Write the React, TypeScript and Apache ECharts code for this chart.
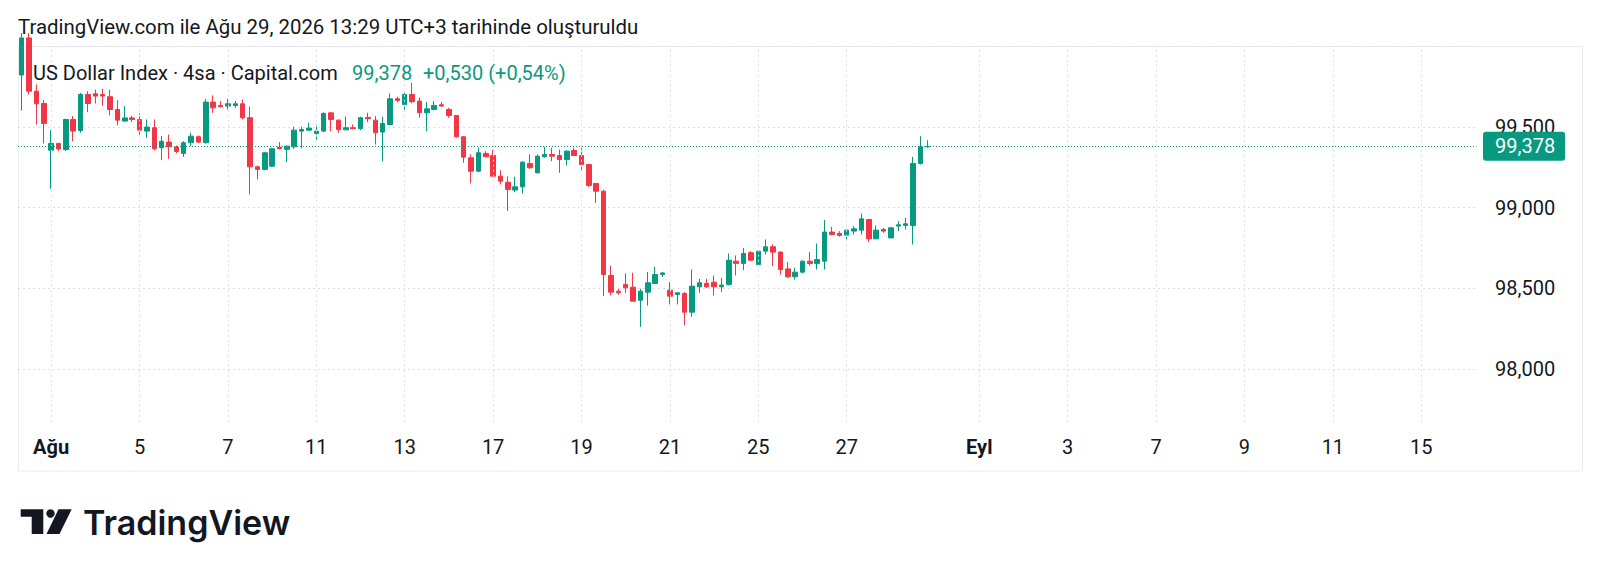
import React, { useEffect, useRef } from 'react';
import * as echarts from 'echarts';

// ---- data (4h candles, US Dollar Index, Capital.com) ----
const opens = [
  99.82, 100.05, 99.72, 99.644, 99.355, 99.397, 99.359, 99.545, 99.477, 99.70,
  99.704, 99.70, 99.686, 99.607, 99.535, 99.555, 99.545, 99.473, 99.494, 99.37,
  99.405, 99.374, 99.335, 99.401, 99.438, 99.401, 99.653, 99.632, 99.628, 99.632,
  99.642, 99.556, 99.252, 99.236, 99.256, 99.374, 99.36, 99.376, 99.473, 99.479,
  99.459, 99.473, 99.586, 99.541, 99.481, 99.494, 99.488, 99.558, 99.541, 99.467,
  99.514, 99.673, 99.638, 99.70, 99.659, 99.587, 99.607, 99.636, 99.607, 99.57,
  99.438, 99.308, 99.225, 99.335, 99.322, 99.194, 99.157, 99.108, 99.128, 99.273,
  99.215, 99.314, 99.328, 99.322, 99.297, 99.353, 99.322, 99.266, 99.149, 99.101,
  98.579, 98.482, 98.524, 98.507, 98.426, 98.476, 98.53, 98.585, 98.488, 98.462,
  98.468, 98.352, 98.509, 98.53, 98.538, 98.509, 98.524, 98.668, 98.654, 98.72,
  98.647, 98.73, 98.757, 98.724, 98.62, 98.571, 98.60, 98.668, 98.654, 98.668,
  98.848, 98.84, 98.829, 98.854, 98.86, 98.926, 98.806, 98.864, 98.812, 98.885,
  98.889, 98.889, 99.273, 99.376,
];
const closes = [
  100.05, 99.72, 99.642, 99.52, 99.397, 99.363, 99.545, 99.473, 99.70, 99.644,
  99.69, 99.69, 99.607, 99.541, 99.555, 99.545, 99.479, 99.498, 99.364, 99.41,
  99.376, 99.347, 99.401, 99.442, 99.405, 99.653, 99.617, 99.624, 99.642, 99.642,
  99.556, 99.252, 99.236, 99.339, 99.364, 99.364, 99.38, 99.479, 99.483, 99.492,
  99.473, 99.582, 99.545, 99.483, 99.494, 99.488, 99.556, 99.55, 99.463, 99.52,
  99.673, 99.663, 99.70, 99.655, 99.587, 99.611, 99.632, 99.628, 99.57, 99.438,
  99.312, 99.225, 99.339, 99.314, 99.194, 99.163, 99.112, 99.128, 99.281, 99.246,
  99.318, 99.328, 99.318, 99.297, 99.349, 99.322, 99.266, 99.137, 99.101, 98.585,
  98.476, 98.472, 98.503, 98.42, 98.482, 98.534, 98.585, 98.595, 98.451, 98.472,
  98.352, 98.513, 98.534, 98.509, 98.509, 98.52, 98.674, 98.654, 98.715, 98.674,
  98.73, 98.757, 98.724, 98.616, 98.571, 98.60, 98.668, 98.654, 98.678, 98.848,
  98.833, 98.827, 98.86, 98.868, 98.93, 98.806, 98.86, 98.854, 98.874, 98.893,
  98.899, 99.273, 99.376, 99.378,
];
const lows = [
  99.60, 99.70, 99.514, 99.397, 99.116, 99.35, 99.35, 99.41, 99.463, 99.59,
  99.644, 99.63, 99.57, 99.508, 99.53, 99.53, 99.442, 99.432, 99.353, 99.293,
  99.302, 99.335, 99.314, 99.38, 99.40, 99.397, 99.586, 99.62, 99.607, 99.617,
  99.545, 99.081, 99.174, 99.23, 99.25, 99.36, 99.281, 99.364, 99.366, 99.476,
  99.41, 99.467, 99.473, 99.463, 99.48, 99.486, 99.479, 99.529, 99.39, 99.287,
  99.508, 99.652, 99.603, 99.645, 99.556, 99.473, 99.603, 99.624, 99.556, 99.432,
  99.277, 99.149, 99.219, 99.312, 99.194, 99.143, 98.978, 99.095, 99.087, 99.24,
  99.211, 99.308, 99.287, 99.215, 99.26, 99.318, 99.225, 99.128, 99.029, 98.451,
  98.455, 98.461, 98.472, 98.42, 98.261, 98.393, 98.53, 98.571, 98.40, 98.40,
  98.27, 98.323, 98.472, 98.503, 98.455, 98.476, 98.517, 98.579, 98.612, 98.668,
  98.637, 98.709, 98.637, 98.585, 98.565, 98.554, 98.592, 98.64, 98.616, 98.616,
  98.827, 98.819, 98.802, 98.833, 98.833, 98.786, 98.806, 98.843, 98.812, 98.854,
  98.864, 98.771, 99.266, 99.37,
];
const highs = [
  100.08, 100.08, 99.762, 99.665, 99.479, 99.40, 99.55, 99.566, 99.71, 99.72,
  99.73, 99.735, 99.73, 99.665, 99.628, 99.566, 99.582, 99.545, 99.545, 99.442,
  99.452, 99.384, 99.411, 99.463, 99.446, 99.673, 99.694, 99.659, 99.673, 99.659,
  99.669, 99.624, 99.26, 99.343, 99.37, 99.405, 99.384, 99.50, 99.50, 99.525,
  99.514, 99.59, 99.59, 99.545, 99.562, 99.514, 99.562, 99.587, 99.566, 99.562,
  99.706, 99.686, 99.71, 99.772, 99.68, 99.653, 99.659, 99.653, 99.617, 99.57,
  99.44, 99.329, 99.37, 99.349, 99.355, 99.231, 99.194, 99.19, 99.287, 99.329,
  99.329, 99.376, 99.37, 99.359, 99.355, 99.37, 99.37, 99.27, 99.15, 99.11,
  98.641, 98.497, 98.592, 98.596, 98.497, 98.60, 98.633, 98.60, 98.538, 98.475,
  98.476, 98.616, 98.558, 98.558, 98.579, 98.565, 98.715, 98.703, 98.75, 98.73,
  98.735, 98.802, 98.771, 98.727, 98.662, 98.627, 98.672, 98.724, 98.777, 98.922,
  98.881, 98.854, 98.864, 98.885, 98.963, 98.93, 98.889, 98.874, 98.878, 98.915,
  98.936, 99.314, 99.442, 99.417,
];

// time axis: 198 four-hour slots (trading days only), label index -> text
const SLOT_COUNT = 198;
const dayLabels: [number, string][] = [
  [4, 'Ağu'], [16, '5'], [28, '7'], [40, '11'], [52, '13'], [64, '17'], [76, '19'],
  [88, '21'], [100, '25'], [112, '27'], [130, 'Eyl'], [142, '3'], [154, '7'],
  [166, '9'], [178, '11'], [190, '15'],
];
const monthLabels = ['Ağu', 'Eyl'];

const HEADER = 'TradingView.com ile Ağu 29, 2026 13:29 UTC+3 tarihinde oluşturuldu';
const LEGEND_NAME = 'US Dollar Index · 4sa · Capital.com';
const LEGEND_PRICE = '99,378';
const LEGEND_CHANGE = '+0,530 (+0,54%)';

const Y_MIN = 97.674;
const Y_MAX = 100;

const GREEN = '#089981';
const RED = '#f23645';
const TEXT = '#131722';
const GRID = '#dcdfe6';
const FONT = 'Roboto';
const FS = 20;

export default function App() {
  const ref = useRef<HTMLDivElement>(null);
  useEffect(() => {
    document.body.style.margin = '0';
    const chart = echarts.init(ref.current as HTMLDivElement, null, { renderer: 'svg' });
    const categories = Array.from({ length: SLOT_COUNT }, (_, i) => 'c' + i);
    const labelMap = new Map<number, string>(dayLabels);
    const candleData = opens.map((o, i) => [o, closes[i], lows[i], highs[i]]);
    const fmt = (v: number) => v.toFixed(3).replace('.', ',');
    const last = closes[closes.length - 1];

    const option: any = {
      animation: false,
      backgroundColor: '#ffffff',
      textStyle: { fontFamily: FONT },
      grid: { left: 18, right: 123.5, top: 46, bottom: 151.3, containLabel: false },
      xAxis: {
        type: 'category',
        data: categories,
        boundaryGap: true,
        axisLine: { show: false },
        axisTick: { show: false },
        splitLine: { show: false },
        axisLabel: {
          interval: (index: number) => labelMap.has(index),
          formatter: (value: string) => {
            const idx = parseInt(String(value).slice(1), 10);
            const t = labelMap.get(idx) || '';
            return monthLabels.includes(t) ? '{b|' + t + '}' : t;
          },
          color: TEXT,
          fontSize: FS,
          fontFamily: FONT,
          margin: 15,
          rich: { b: { fontWeight: 'bold', fontSize: FS, color: TEXT, fontFamily: FONT } },
        },
      },
      yAxis: {
        type: 'value',
        position: 'right',
        min: Y_MIN,
        max: Y_MAX,
        minInterval: 0.5,
        maxInterval: 0.5,
        scale: true,
        axisLine: { show: false },
        axisTick: { show: false },
        splitLine: {
          show: true,
          showMinLine: false,
          lineStyle: { color: GRID, type: [2, 3], width: 1 },
        },
        axisLabel: {
          showMinLabel: false,
          showMaxLabel: false,
          color: TEXT,
          fontSize: FS,
          lineHeight: 18,
          fontFamily: FONT,
          margin: 18.5,
          formatter: (v: number) => fmt(v),
        },
      },
      series: [
        {
          type: 'line',
          data: [],
          z: 1,
          silent: true,
          markLine: {
            silent: true,
            symbol: ['none', 'none'],
            animation: false,
            label: { show: false },
            lineStyle: { color: GRID, type: [2, 3], width: 1 },
            data: dayLabels.map(([i]) => ({ xAxis: i })),
          },
        },
        {
          type: 'candlestick',
          data: candleData,
          barWidth: 5,
          z: 3,
          itemStyle: {
            color: GREEN,
            color0: RED,
            borderColor: GREEN,
            borderColor0: RED,
            borderWidth: 1,
          },
          markLine: {
            silent: true,
            symbol: ['none', 'none'],
            animation: false,
            data: [
              {
                yAxis: last,
                lineStyle: { color: GREEN, type: [1, 2], width: 1 },
                label: {
                  show: true,
                  position: 'end',
                  distance: 6.5,
                  formatter: fmt(last),
                  color: '#ffffff',
                  backgroundColor: GREEN,
                  padding: [5, 10, 4, 12],
                  lineHeight: 20,
                  borderRadius: 3,
                  fontSize: FS,
                  fontFamily: FONT,
                },
              },
            ],
          },
        },
      ],
      graphic: [
        {
          type: 'rect',
          silent: true,
          z: 0,
          shape: { x: 18.5, y: 46.5, width: 1564, height: 424.5 },
          style: { fill: 'none', stroke: '#e9ebf0', lineWidth: 1 },
        },
        {
          type: 'text',
          x: 18,
          y: 26.5,
          style: { text: HEADER, fill: TEXT, fontSize: 20.4, fontFamily: FONT, verticalAlign: 'middle' },
        },
        {
          type: 'text',
          x: 33,
          y: 73,
          z: 10,
          style: { text: LEGEND_NAME, fill: TEXT, fontSize: FS, fontFamily: FONT, verticalAlign: 'middle' },
        },
        {
          type: 'text',
          x: 352,
          y: 73,
          z: 10,
          style: { text: LEGEND_PRICE, fill: GREEN, fontSize: FS, fontFamily: FONT, verticalAlign: 'middle' },
        },
        {
          type: 'text',
          x: 423,
          y: 73,
          z: 10,
          style: { text: LEGEND_CHANGE, fill: GREEN, fontSize: FS, fontFamily: FONT, verticalAlign: 'middle' },
        },
        // TradingView logo
        {
          type: 'polygon',
          shape: {
            points: [[20.7, 509.3], [43.3, 509.3], [43.3, 534], [31.7, 534], [31.7, 516.7], [20.7, 516.7]],
          },
          style: { fill: TEXT },
        },
        { type: 'circle', shape: { cx: 50.5, cy: 513.5, r: 4.2 }, style: { fill: TEXT } },
        {
          type: 'polygon',
          shape: { points: [[58.5, 509.3], [71.7, 509.3], [59.5, 534], [46.5, 534]] },
          style: { fill: TEXT },
        },
        {
          type: 'text',
          x: 83,
          y: 522,
          style: {
            text: 'TradingView',
            fill: TEXT,
            fontSize: 34,
            fontWeight: 600,
            fontFamily: 'Inter',
            verticalAlign: 'middle',
          },
        },
      ],
    };
    chart.setOption(option);
    return () => chart.dispose();
  }, []);
  return (
    <div
      ref={ref}
      style={{ position: 'absolute', left: 0, top: 0, width: 1600, height: 573, background: '#fff' }}
    />
  );
}
